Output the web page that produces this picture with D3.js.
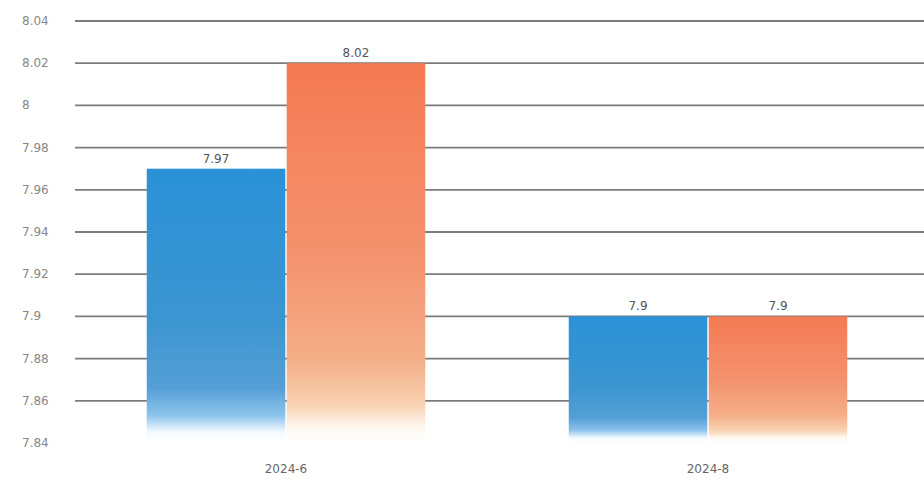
<!DOCTYPE html>
<html><head><meta charset="utf-8">
<script src="https://cdn.jsdelivr.net/npm/d3@7"></script>
<style>body{margin:0;background:#fff;} text{font-family:"DejaVu Sans",sans-serif;}</style>
</head><body>
<svg id="c" width="924" height="497"></svg>
<script>
const categories = ["2024-6", "2024-8"];
const seriesNames = ["A", "B"];
const seriesA = [7.97, 7.9];
const seriesB = [8.02, 7.9];
const tickValues = [7.84, 7.86, 7.88, 7.9, 7.92, 7.94, 7.96, 7.98, 8, 8.02, 8.04];

const svg = d3.select("#c");
const x0 = d3.scaleBand().domain(categories).range([75, 919]).paddingInner(0.34).paddingOuter(0.17);
const x1 = d3.scaleBand().domain(seriesNames).range([0, x0.bandwidth()]).paddingInner(0.01);
const y = d3.scaleLinear().domain([7.84, 8.04]).range([443, 21]);

const defs = svg.append("defs");
const gA = defs.append("linearGradient").attr("id","gA").attr("x1",0).attr("y1",0).attr("x2",0).attr("y2",1);
[[0,"#2b92d8"],[0.55,"#3b95d0"],[0.8,"#559fd6"],[0.9,"#8cc4ec"],[0.96,"#f4faff"],[1,"#ffffff"]].forEach(s=>gA.append("stop").attr("offset",s[0]).attr("stop-color",s[1]));
const gB = defs.append("linearGradient").attr("id","gB").attr("x1",0).attr("y1",0).attr("x2",0).attr("y2",1);
[[0,"#f47a53"],[0.5,"#f4926e"],[0.78,"#f4ae88"],[0.9,"#f8d2b2"],[0.96,"#fff8f0"],[1,"#ffffff"]].forEach(s=>gB.append("stop").attr("offset",s[0]).attr("stop-color",s[1]));

// grid
const grid = svg.append("g");
grid.selectAll("line").data(tickValues.filter(v=>v>7.85)).join("line")
  .attr("x1",75).attr("x2",924).attr("y1",d=>y(d)).attr("y2",d=>y(d))
  .attr("stroke","#7c7c7c").attr("stroke-width",1.8);

// y labels
svg.append("g").selectAll("text").data(tickValues).join("text")
  .attr("x",22).attr("y",d=>y(d)+4).attr("font-size",12).attr("fill","#888")
  .text(d=>d3.format("~g")(d));

const data = categories.map((c,i)=>({c, vals:[{s:"A",v:seriesA[i]},{s:"B",v:seriesB[i]}]}));
const g = svg.append("g").selectAll("g").data(data).join("g").attr("transform",d=>`translate(${x0(d.c)},0)`);
g.selectAll("rect").data(d=>d.vals).join("rect")
  .attr("x",d=>x1(d.s)).attr("width",x1.bandwidth())
  .attr("y",d=>y(d.v)).attr("height",d=>y(7.84)-y(d.v))
  .attr("fill",d=>d.s==="A"?"url(#gA)":"url(#gB)");
g.selectAll("text").data(d=>d.vals).join("text")
  .attr("x",d=>x1(d.s)+x1.bandwidth()/2).attr("y",d=>y(d.v)-6)
  .attr("text-anchor","middle").attr("font-size",12).attr("fill","#555")
  .text(d=>d.v);

svg.append("g").selectAll("text").data(categories).join("text")
  .attr("x",d=>x0(d)+x0.bandwidth()/2).attr("y",473).attr("text-anchor","middle")
  .attr("font-size",12).attr("fill","#666").text(d=>d);
</script>
</body></html>
